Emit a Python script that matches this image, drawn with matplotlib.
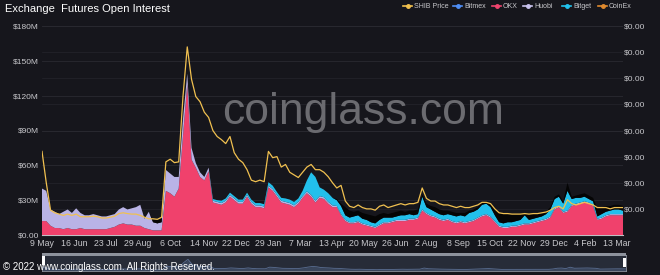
import numpy as np
import pandas as pd
import matplotlib
matplotlib.use("Agg")
import matplotlib.pyplot as plt
from matplotlib.ticker import FuncFormatter
from matplotlib.lines import Line2D
from matplotlib.patches import Rectangle

# open interest per exchange, $M, one sample every 5 days from 9 May 2021
okx_oi = [12, 12, 8, 6, 6, 5, 6, 5, 5, 6, 5, 5, 5, 5, 5, 5, 6, 7, 9, 10,
          9, 9, 8, 8, 6, 5, 4, 4, 4, 38, 36, 33, 40, 85, 130, 65, 58, 50, 47, 55,
          28, 27, 26, 28, 33, 30, 27, 27, 33, 27, 24, 24, 23, 41, 38, 33, 28, 27, 26, 24,
          27, 32, 36, 33, 28, 32, 31, 27, 24, 24, 17, 12, 10, 10, 11, 9, 8, 7, 6, 8,
          10, 10, 11, 12, 12, 12, 13, 13, 14, 21, 18, 16, 15, 13, 12, 13, 11, 10, 11, 10,
          11, 12, 14, 16, 17, 15, 11, 7, 6, 6, 7, 7, 8, 9, 9, 10, 11, 12, 13, 15,
          22, 24, 19, 20, 25, 26, 27, 28, 27, 25, 13, 14, 16, 17, 17, 17, 17]
huobi_oi = [28, 26, 14, 14, 12, 15, 16, 14, 18, 13, 12, 12, 13, 12, 11, 11, 11, 11, 13, 14,
            13, 14, 16, 18, 8, 15, 7, 6, 7, 18, 17, 17, 10, 15, 9, 10, 4, 4, 3, 3,
            1.5, 1.5, 1.5, 1.5, 1.5, 1.5, 1.5, 1.5, 1.5, 1.5, 1.5, 1.5, 1.5, 1.5, 1.5, 1.5, 1.5, 1.5, 1.5, 1.5,
            1.5, 1.5, 1.5, 1.5, 1.5, 1.5, 1.5, 1.5, 1.5, 1.0, 1.0, 1.0, 1.0, 1.0, 1.0, 1.0, 1.0, 1.0, 1.0, 1.0,
            1.0, 1.0, 1.0, 1.0, 1.0, 1.0, 1.0, 1.0, 1.0, 1.0, 1.0, 1.0, 1.0, 1.0, 1.0, 1.0, 1.0, 1.0, 1.0, 1.0,
            1.0, 1.0, 1.0, 1.0, 1.0, 1.0, 1.0, 1.0, 1.0, 1.0, 1.0, 1.0, 1.0, 1.0, 1.0, 1.0, 1.0, 1.0, 1.0, 1.0,
            1.0, 1.0, 1.0, 1.0, 1.0, 1.0, 1.0, 1.0, 1.0, 1.0, 1.0, 1.0, 1.0, 1.0, 1.0, 1.0, 1.0]
bitget_oi = [0, 0, 0, 0, 0, 0, 0, 0, 0, 0, 0, 0, 0, 0, 0, 0, 0, 0, 0, 0,
             0, 0, 0, 0, 0, 0, 0, 0, 0, 0, 0, 0, 0, 0, 0, 0, 0, 0, 0, 0,
             1.5, 1.5, 2, 2, 2, 2, 2, 2, 2, 2, 2, 2, 2, 3, 3, 2.5, 2.5, 3, 3, 3,
             3, 4.5, 9.5, 19.5, 20.5, 7.5, 6.5, 7.5, 6.5, 5, 7, 4, 4, 5, 5, 4, 4, 3, 3, 4,
             4, 4, 3, 3, 4, 4, 4, 3, 3, 11, 5, 5, 4, 4, 4, 4, 5, 5, 5, 5,
             7, 7, 7, 9, 9, 8, 5, 3, 3, 4, 3, 4, 4, 7, 3, 3, 3, 3, 4, 6,
             8, 8, 7, 17, 5, 5, 4, 4, 3, 3, 2, 3, 3, 3, 4, 4, 3]
other_oi = [0, 0, 0, 0, 0, 0, 0, 0, 0, 0, 0, 0, 0, 0, 0, 0, 0, 0, 0, 0,
            0, 0, 0, 0, 0, 0, 2, 3, 3, 0, 0, 0, 0, 0, 0, 0, 0, 0, 0, 0,
            0, 0, 0, 0, 0, 0, 0, 0, 0, 0, 0, 0, 0, 0, 0, 0, 0, 0, 0, 0,
            0, 0, 0, 0, 0, 0, 0, 0, 0, 1, 2, 7, 6, 4, 4, 5, 5, 6, 6, 5,
            4, 3, 4, 4, 4, 3, 3, 4, 4, 2, 3, 3, 4, 4, 4, 3, 3, 3, 2, 3,
            2, 2, 2, 2, 2, 2, 5, 8, 9, 7, 7, 6, 5, 2, 5, 4, 3, 3, 2, 2,
            2, 2, 2, 7, 2, 2, 3, 3, 3, 3, 7, 6, 5, 4, 4, 4, 4]
# SHIB price in units of $0.00001
shib_price = [3.2, 2.0, 0.95, 0.85, 0.80, 0.75, 0.80, 0.75, 0.80, 0.70, 0.70, 0.70, 0.72, 0.70, 0.65, 0.65, 0.68, 0.72, 0.82, 0.85,
              0.82, 0.80, 0.80, 0.75, 0.68, 0.62, 0.62, 0.60, 0.68, 2.8, 2.9, 2.77, 2.8, 5.3, 7.2, 5.96, 5.3, 5.1, 4.7, 4.5,
              4.0, 3.77, 3.65, 3.5, 3.77, 3.15, 2.9, 2.77, 2.5, 2.1, 2.04, 2.1, 2.04, 3.2, 2.96, 3.0, 2.6, 2.7, 2.4, 2.3,
              2.2, 2.4, 2.6, 2.7, 2.5, 2.5, 2.4, 2.23, 2.0, 1.8, 1.9, 1.3, 1.1, 1.05, 1.15, 1.05, 1.0, 1.0, 0.95, 1.1,
              1.15, 1.05, 1.1, 1.15, 1.2, 1.15, 1.2, 1.2, 1.25, 1.8, 1.4, 1.3, 1.3, 1.2, 1.15, 1.15, 1.1, 1.05, 1.1, 1.05,
              1.05, 1.1, 1.15, 1.25, 1.25, 1.2, 1.0, 0.85, 0.82, 0.82, 0.8, 0.8, 0.8, 0.82, 0.8, 0.82, 0.82, 0.85, 0.88, 0.95,
              1.05, 1.1, 1.0, 1.35, 1.2, 1.15, 1.2, 1.25, 1.2, 1.15, 1.05, 1.05, 1.05, 1.0, 1.05, 1.05, 1.05]

tick_dates = ["2021-05-09", "2021-06-16", "2021-07-23", "2021-08-29", "2021-10-06",
              "2021-11-14", "2021-12-22", "2022-01-29", "2022-03-07", "2022-04-13",
              "2022-05-20", "2022-06-26", "2022-08-02", "2022-09-08", "2022-10-15",
              "2022-11-22", "2022-12-29", "2023-02-04", "2023-03-13"]
tick_labels = ["9 May", "16 Jun", "23 Jul", "29 Aug", "6 Oct", "14 Nov", "22 Dec", "29 Jan",
               "7 Mar", "13 Apr", "20 May", "26 Jun", "2 Aug", "8 Sep", "15 Oct", "22 Nov",
               "29 Dec", "4 Feb", "13 Mar"]

legend_names = ["SHIB Price", "Bitmex", "OKX", "Huobi", "Bitget", "CoinEx"]
legend_colors = ["#f2c14e", "#4f8ef5", "#f0446e", "#c9c3ee", "#22c3ee", "#e08a2e"]

bg = "#16161c"
txt = "#c8c8cc"
plt.rcParams["font.family"] = ["Liberation Sans", "DejaVu Sans"]

dates = pd.date_range("2021-05-09", periods=len(okx_oi), freq="5D")
bitmex_oi = np.zeros(len(okx_oi))   # not visible on the chart
coinex_oi = np.zeros(len(okx_oi))

fig = plt.figure(figsize=(6.6, 2.75), dpi=100, facecolor=bg)
ax = fig.add_axes([42 / 660, 1 - 235 / 275, 581 / 660, 209 / 275])
ax.set_facecolor(bg)

ax.stackplot(dates, bitmex_oi, okx_oi, huobi_oi, bitget_oi, other_oi, coinex_oi,
             colors=["#4f8ef5", "#f0416c", "#b9b3e6", "#22c0ec", "#050505", "#e08a2e"],
             lw=0, zorder=3)
ax.set_xlim(dates[0], dates[-1])
ax.set_ylim(0, 180)
ax.set_yticks(np.arange(0, 181, 30))
ax.yaxis.set_major_formatter(FuncFormatter(lambda v, p: "$0.00" if v == 0 else "$%dM" % v))
ax.set_xticks(pd.to_datetime(tick_dates))
ax.set_xticklabels(tick_labels)
ax.tick_params(axis="y", colors=txt, labelsize=6, length=0, pad=2)
ax.tick_params(axis="x", colors=txt, labelsize=6.3, length=0, pad=3)
for s in ["top", "right", "left"]:
    ax.spines[s].set_visible(False)
ax.spines["bottom"].set_color("#bfbfc4")
ax.spines["bottom"].set_linewidth(0.8)
ax.grid(axis="y", color="#2a2a31", lw=0.6, zorder=0)
# gridlines of the price axis, kept behind the areas
for k in range(1, 9):
    ax.axhline(k * 180 / 8, color="#25252c", lw=0.5, zorder=0)
ax.text(0.552, 0.585, "coinglass.com", transform=ax.transAxes, fontsize=32,
        color="#6b6b70", ha="center", va="center", zorder=2)

ax2 = ax.twinx()
ax2.plot(dates, np.array(shib_price) * 1e-5, color="#f0c050", lw=0.9, zorder=5)
ax2.set_ylim(0, 8e-5)
ax2.set_yticks(np.arange(1, 9) * 1e-5)
ax2.yaxis.set_major_formatter(FuncFormatter(lambda v, p: "$0.00"))
ax2.tick_params(axis="y", colors=txt, labelsize=6, length=0, pad=1)
for s in ax2.spines.values():
    s.set_visible(False)

# title and legend
fig.text(5 / 660, 1 - 9 / 275, "Exchange  Futures Open Interest", color="white",
         fontsize=8.0, va="center", ha="left")
leg_x = [403, 453, 492, 523, 562, 598]
for x, name, c in zip(leg_x, legend_names, legend_colors):
    y = 1 - 6 / 275
    fig.add_artist(Line2D([x / 660, (x + 9) / 660], [y, y], color=c, lw=1.2,
                          transform=fig.transFigure))
    fig.add_artist(Line2D([(x + 4.5) / 660], [y], color=c, marker="o", ms=2.5,
                          transform=fig.transFigure))
    fig.text((x + 11) / 660, y, name, color=txt, fontsize=5.0, va="center", ha="left")

# data zoom strip
axz = fig.add_axes([42 / 660, 1 - 271 / 275, 584 / 660, 16 / 275])
axz.set_facecolor("#272c38")
total = np.array(okx_oi) + np.array(huobi_oi) + np.array(bitget_oi) + np.array(other_oi)
axz.fill_between(dates, total, color="#3a465c", lw=0)
axz.plot(dates, total, color="#5a6e92", lw=0.6)
axz.set_xlim(dates[0], dates[-1])
axz.set_ylim(0, 190)
axz.set_xticks([])
axz.set_yticks([])
for s in axz.spines.values():
    s.set_color("#8c919b")
    s.set_linewidth(0.6)
fig.add_artist(Rectangle((42 / 660, 1 - 256 / 275), 584 / 660, 3 / 275,
                         facecolor="#8d929c", edgecolor="none", transform=fig.transFigure))
fig.add_artist(Rectangle((42 / 660, 1 - 265 / 275), 3 / 660, 9 / 275,
                         facecolor="white", edgecolor="none", transform=fig.transFigure))
fig.add_artist(Rectangle((623 / 660, 1 - 267 / 275), 3 / 660, 9 / 275,
                         facecolor="white", edgecolor="none", transform=fig.transFigure))

fig.text(3 / 660, 1 - 267 / 275, "\u00a9 2022 www.coinglass.com. All Rights Reserved.",
         color="white", fontsize=7, va="center", ha="left")

fig.savefig("out.png", dpi=100, facecolor=bg)
